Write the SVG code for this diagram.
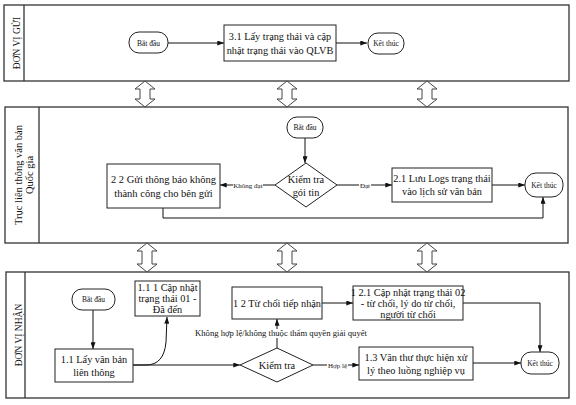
<svg xmlns="http://www.w3.org/2000/svg" width="576" height="405" viewBox="0 0 576 405">
<defs>
<marker id="ah" viewBox="0 0 8 6" refX="8" refY="3" markerWidth="7" markerHeight="5" markerUnits="userSpaceOnUse" orient="auto">
<path d="M0,0 L8,3 L0,6 z" fill="#111"/>
</marker>
<style>
text{font-family:"Liberation Serif","Times New Roman",serif;fill:#111}
.lane{fill:none;stroke:#333;stroke-width:1.3}
.box{fill:#fff;stroke:#222;stroke-width:1}
.term{fill:#fff;stroke:#222;stroke-width:1}
.dbl{fill:#fff;stroke:#444;stroke-width:1}
.con{fill:none;stroke:#111;stroke-width:1}
.t10{font-size:10.3px}
.t7{font-size:7.5px}
.t6{font-size:7px}
.lbl{font-size:9.5px}
</style>
</defs>
<rect width="576" height="405" fill="#fff"/>

<g id="lanes">
<rect class="lane" x="4" y="5" width="565" height="76"/>
<line class="lane" x1="24" y1="5" x2="24" y2="81"/>
<text class="lbl" transform="translate(20,43) rotate(-90)" text-anchor="middle">ĐƠN VỊ GỬI</text>
<rect class="lane" x="5" y="107" width="563" height="136"/>
<line class="lane" x1="39" y1="107" x2="39" y2="243"/>
<text style="font-size:10.5px" transform="translate(22,175) rotate(-90)" text-anchor="middle">Trục liên thông văn bản</text>
<text style="font-size:10.5px" transform="translate(33,175) rotate(-90)" text-anchor="middle">Quốc gia</text>
<rect class="lane" x="6" y="272" width="563" height="126"/>
<line class="lane" x1="25" y1="272" x2="25" y2="398"/>
<text class="lbl" transform="translate(22,335) rotate(-90)" text-anchor="middle">ĐƠN VỊ NHẬN</text>
</g>

<g id="lane-arrows">
<path class="dbl" d="M145,81 L155,89 L150,89 L150,99 L155,99 L145,107 L135,99 L140,99 L140,89 L135,89 Z"/>
<path class="dbl" d="M287,81 L297,89 L292,89 L292,99 L297,99 L287,107 L277,99 L282,99 L282,89 L277,89 Z"/>
<path class="dbl" d="M427,81 L437,89 L432,89 L432,99 L437,99 L427,107 L417,99 L422,99 L422,89 L417,89 Z"/>
<path class="dbl" d="M147,243 L157,251 L152,251 L152,264 L157,264 L147,272 L137,264 L142,264 L142,251 L137,251 Z"/>
<path class="dbl" d="M287,243 L297,251 L292,251 L292,264 L297,264 L287,272 L277,264 L282,264 L282,251 L277,251 Z"/>
<path class="dbl" d="M427,243 L437,251 L432,251 L432,264 L437,264 L427,272 L417,264 L422,264 L422,251 L417,251 Z"/>
</g>

<g id="connectors">
<line class="con" x1="168" y1="43" x2="224" y2="43" marker-end="url(#ah)"/>
<line class="con" x1="336" y1="43" x2="367" y2="43" marker-end="url(#ah)"/>

<line class="con" x1="305" y1="138" x2="305" y2="163" marker-end="url(#ah)"/>
<line class="con" x1="275" y1="185" x2="220" y2="185" marker-end="url(#ah)"/>
<line class="con" x1="337" y1="185" x2="392" y2="185" marker-end="url(#ah)"/>
<line class="con" x1="492" y1="185" x2="525" y2="185" marker-end="url(#ah)"/>
<polyline class="con" points="163,208 163,218 543,218 543,197" marker-end="url(#ah)"/>

<line class="con" x1="93" y1="310" x2="93" y2="349" marker-end="url(#ah)"/>
<path class="con" d="M133,365 L146,365 Q164,365 166,342 L167,317" marker-end="url(#ah)"/>
<line class="con" x1="133" y1="365" x2="240" y2="365" marker-end="url(#ah)"/>
<line class="con" x1="277" y1="348" x2="277" y2="319" marker-end="url(#ah)"/>
<line class="con" x1="322" y1="303" x2="353" y2="303" marker-end="url(#ah)"/>
<polyline class="con" points="463,303 540,303 540,352" marker-end="url(#ah)"/>
<line class="con" x1="313" y1="365" x2="359" y2="365" marker-end="url(#ah)"/>
<line class="con" x1="473" y1="363" x2="521" y2="363" marker-end="url(#ah)"/>

<rect x="233" y="181" width="30" height="8" fill="#fff"/>
<text class="t6" x="248" y="187.5" text-anchor="middle">Không đạt</text>
<rect x="359" y="181" width="12" height="8" fill="#fff"/>
<text class="t6" x="365" y="187.5" text-anchor="middle">Đạt</text>
<rect x="262" y="329" width="30" height="9" fill="#fff"/>
<text style="font-size:7.5px" x="281" y="336" text-anchor="middle" textLength="172" lengthAdjust="spacingAndGlyphs">Không hợp lệ/không thuộc thẩm quyền giải quyết</text>
<rect x="327" y="361" width="21" height="8" fill="#fff"/>
<text class="t6" x="337.5" y="367.5" text-anchor="middle">Hợp lệ</text>
</g>

<g id="n-start1">
<rect class="term" x="129" y="32" width="39" height="21" rx="10"/>
<text class="t7" x="148.5" y="45.5" text-anchor="middle">Bắt đầu</text>
</g>
<g id="n-3-1">
<rect class="box" x="224" y="25" width="112" height="36"/>
<text class="t10" x="280" y="40" text-anchor="middle">3.1 Lấy trạng thái  và cập</text>
<text class="t10" x="280" y="54" text-anchor="middle">nhật trạng thái vào QLVB</text>
</g>
<g id="n-end1">
<rect class="term" x="368" y="33" width="36" height="21" rx="10"/>
<text class="t7" x="386" y="46" text-anchor="middle">Kết thúc</text>
</g>

<g id="n-start2">
<rect class="term" x="287" y="117" width="36" height="21" rx="10"/>
<text class="t7" x="305" y="130" text-anchor="middle">Bắt đầu</text>
</g>
<g id="n-check2">
<polygon class="box" points="306,163 337,185 306,207 275,185"/>
<text class="t10" x="306" y="183" text-anchor="middle">Kiểm tra</text>
<text class="t10" x="306" y="196" text-anchor="middle">gói tin</text>
</g>
<g id="n-2-2">
<rect class="box" x="107" y="164" width="113" height="44"/>
<text style="font-size:10.5px" x="163.5" y="183" text-anchor="middle">2 2 Gửi thông báo không</text>
<text style="font-size:10.5px" x="163.5" y="197" text-anchor="middle">thành công cho bên gửi</text>
</g>
<g id="n-2-1">
<rect class="box" x="392" y="168" width="100" height="34"/>
<text class="t10" x="442" y="182" text-anchor="middle">2.1 Lưu Logs trạng thái</text>
<text class="t10" x="442" y="195" text-anchor="middle">vào lịch sử văn bản</text>
</g>
<g id="n-end2">
<rect class="term" x="525" y="173" width="38" height="24" rx="11"/>
<text class="t7" x="544" y="188" text-anchor="middle">Kết thúc</text>
</g>

<g id="n-start3">
<rect class="term" x="72" y="289" width="43" height="21" rx="10"/>
<text class="t7" x="93.5" y="302" text-anchor="middle">Bắt đầu</text>
</g>
<g id="n-1-1">
<rect class="box" x="55" y="349" width="78" height="33"/>
<text class="t10" x="94" y="363" text-anchor="middle">1.1 Lấy văn bản</text>
<text class="t10" x="94" y="376" text-anchor="middle">liên thông</text>
</g>
<g id="n-1-1-1">
<rect class="box" x="135" y="281" width="65" height="35"/>
<text class="t10" x="167.5" y="291" text-anchor="middle">1.1 1 Cập nhật</text>
<text class="t10" x="167.5" y="302" text-anchor="middle">trạng thái 01 -</text>
<text class="t10" x="167.5" y="313" text-anchor="middle">Đã đến</text>
</g>
<g id="n-check3">
<polygon class="box" points="277,348 313,365 277,382 240,365"/>
<text class="t10" x="277" y="368.5" text-anchor="middle">Kiểm tra</text>
</g>
<g id="n-1-2">
<rect class="box" x="232" y="287" width="90" height="32"/>
<text class="t10" x="277" y="306.5" text-anchor="middle">1 2 Từ chối tiếp nhận</text>
</g>
<g id="n-1-2-1">
<rect class="box" x="353" y="286" width="110" height="34"/>
<text class="t10" x="408" y="296" text-anchor="middle">1 2.1 Cập nhật trạng thái 02</text>
<text class="t10" x="408" y="307" text-anchor="middle">- từ chối, lý do từ chối,</text>
<text class="t10" x="408" y="318" text-anchor="middle">người từ chối</text>
</g>
<g id="n-1-3">
<rect class="box" x="359" y="347" width="114" height="33"/>
<text class="t10" x="416" y="361" text-anchor="middle">1.3 Văn thư thực hiện xử</text>
<text class="t10" x="416" y="374" text-anchor="middle">lý theo luồng nghiệp vụ</text>
</g>
<g id="n-end3">
<rect class="term" x="521" y="352" width="38" height="22" rx="10"/>
<text class="t7" x="540" y="366" text-anchor="middle">Kết thúc</text>
</g>
</svg>
